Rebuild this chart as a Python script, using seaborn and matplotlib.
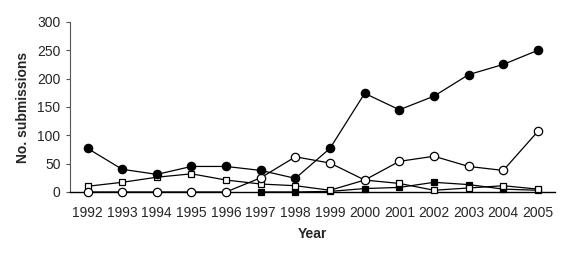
import numpy as np
import pandas as pd
import matplotlib
matplotlib.use('Agg')
import matplotlib.pyplot as plt
import seaborn as sns

years = list(range(1992, 2006))

# values
filled_circle = [77, 40, 31, 45, 45, 38, 24, 77, 174, 145, 169, 207, 225, 250]
open_circle = [0, 0, 0, 0, 0, 25, 62, 51, 21, 54, 63, 45, 38, 107]
open_square = [10, 17, 26, 32, 21, 14, 11, 3, 21, 15, 3, 7, 11, 5]
filled_square = [np.nan, np.nan, np.nan, np.nan, np.nan, 0, 0, 1, 6, 8, 17, 13, 5, 3]

sns.set_style('white')
plt.rcParams['font.family'] = ['Liberation Sans', 'DejaVu Sans']

fig = plt.figure(figsize=(5.66, 2.58), dpi=100)
ax = fig.add_axes([0.124, 0.256, 0.857, 0.659])

series = [
    (filled_square, 's', 'black', 4),
    (open_square, 's', 'white', 4),
    (open_circle, 'o', 'white', 6),
    (filled_circle, 'o', 'black', 6),
]
for vals, mk, fc, ms in series:
    df = pd.DataFrame({'Year': years, 'n': vals}).dropna()
    sns.lineplot(data=df, x='Year', y='n', ax=ax, color='black', linewidth=0.9,
                 marker=mk, markersize=ms, markerfacecolor=fc,
                 markeredgecolor='black', markeredgewidth=0.9, zorder=3,
                 clip_on=False)

ax.set_xlim(1991.5, 2005.5)
ax.set_ylim(0, 300)
ax.set_xticks(years)
ax.set_xticklabels([str(y) for y in years])
ax.set_yticks(range(0, 301, 50))
ax.tick_params(axis='both', labelsize=10, length=3, color='#555555')
ax.tick_params(axis='x', length=0, pad=10)
ax.tick_params(axis='y', left=True, direction='out', pad=4)

for s in ['top', 'right']:
    ax.spines[s].set_visible(False)
ax.spines['left'].set_color('#555555')
ax.spines['bottom'].set_color('black')
ax.spines['bottom'].set_linewidth(1.0)

ax.set_xlabel('Year', fontsize=10, fontweight='bold', labelpad=5)
ax.set_ylabel('No. submissions', fontsize=10, fontweight='bold', labelpad=5)

fig.savefig('out.png', dpi=100)
